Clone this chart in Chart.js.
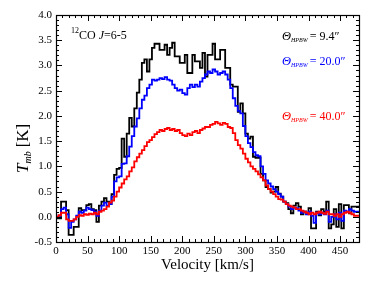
<!DOCTYPE html>
<html>
<head>
<meta charset="utf-8">
<script src="https://cdn.jsdelivr.net/npm/chart.js@4"></script>
<style>
  html, body { margin: 0; padding: 0; background: #fff; }
  #wrap { width: 374px; height: 287px; }
</style>
</head>
<body>
<div id="wrap"><canvas id="myChart" width="374" height="287"></canvas></div>
<script>
// channel left edges, 4 km/s wide
const chanWidth = 4;
const velocities = [];
for (let i = 0; i < 120; i++) velocities.push(i * chanWidth);

const beam94 = [
  0.10,-0.03,-0.03,0.30,0.30,0.13,-0.36,-0.36,-0.20,-0.20,
  0.17,0.13,0.13,0.23,0.25,0.15,0.13,-0.10,0.22,0.30,
  0.37,0.30,0.25,0.45,0.83,0.95,0.97,1.55,1.19,1.65,
  1.96,1.79,2.15,2.46,2.72,3.05,3.12,2.88,3.12,3.35,
  3.43,3.43,3.31,3.31,3.41,3.21,3.35,3.45,3.18,3.18,
  3.05,3.05,3.21,2.85,2.85,3.21,3.08,3.08,2.95,3.25,
  2.78,3.21,3.21,3.43,3.12,3.12,3.31,3.31,2.95,2.95,
  2.62,2.58,2.58,2.08,2.25,2.05,1.65,1.55,1.59,1.19,
  1.17,1.17,0.85,0.72,0.59,0.55,0.48,0.50,0.59,0.46,
  0.40,0.30,0.27,0.15,0.07,0.22,0.27,0.20,0.05,0.10,
  0.07,0.17,-0.23,-0.23,0.10,0.03,0.15,0.10,0.30,-0.23,
  -0.15,0.15,-0.20,0.25,-0.23,0.23,0.23,0.07,0.20,0.20
];
const beam20 = [
  0.05,0.00,0.02,0.15,0.18,0.05,-0.22,-0.10,-0.05,0.02,
  0.10,0.08,0.12,0.18,0.15,0.13,0.10,0.02,0.12,0.22,
  0.28,0.22,0.25,0.40,0.70,0.78,0.80,1.05,1.06,1.20,
  1.39,1.60,1.79,1.95,2.15,2.32,2.40,2.55,2.62,2.72,
  2.70,2.72,2.75,2.73,2.77,2.72,2.70,2.62,2.55,2.50,
  2.52,2.45,2.42,2.55,2.62,2.57,2.62,2.58,2.68,2.75,
  2.82,2.88,2.85,2.92,2.88,2.82,2.85,2.88,2.82,2.72,
  2.55,2.35,2.20,2.10,2.05,1.80,1.60,1.46,1.38,1.28,
  1.22,1.20,1.00,0.85,0.72,0.66,0.60,0.55,0.50,0.45,
  0.40,0.30,0.25,0.20,0.15,0.18,0.17,0.12,0.08,0.10,
  0.05,0.10,0.02,-0.12,0.08,0.05,0.08,0.05,0.12,-0.10,
  0.00,0.05,-0.05,0.08,-0.08,0.12,0.10,0.15,0.12,0.10
];
const beam40 = [
  0.02,0.00,0.03,0.08,0.08,-0.05,-0.08,-0.08,-0.05,0.00,
  0.03,0.02,0.05,0.04,0.06,0.05,0.08,0.05,0.10,0.12,
  0.15,0.20,0.28,0.32,0.40,0.50,0.58,0.66,0.74,0.80,
  0.90,0.98,1.10,1.18,1.25,1.32,1.40,1.48,1.52,1.58,
  1.64,1.68,1.72,1.70,1.74,1.76,1.72,1.74,1.70,1.72,
  1.66,1.62,1.60,1.65,1.62,1.68,1.70,1.66,1.72,1.75,
  1.78,1.78,1.82,1.84,1.88,1.85,1.82,1.86,1.84,1.78,
  1.76,1.66,1.52,1.42,1.35,1.25,1.15,1.08,1.00,0.95,
  0.90,0.84,0.78,0.72,0.62,0.55,0.50,0.45,0.40,0.35,
  0.34,0.30,0.25,0.22,0.20,0.18,0.15,0.15,0.12,0.10,
  0.08,0.05,0.08,0.05,0.08,0.10,0.08,0.06,0.10,0.05,
  0.05,0.02,0.05,0.00,0.05,0.08,0.10,0.08,0.05,0.02
];

const beamLabels = ["9.4", "20.0", "40.0"];
const beamColors = ["#000000", "#0000ff", "#ff0000"];

function toPoints(vals) {
  const pts = vals.map((t, i) => ({x: velocities[i], y: t}));
  // close the last channel
  pts.push({x: velocities[velocities.length - 1] + chanWidth, y: vals[vals.length - 1]});
  return pts;
}

const serif = "'Liberation Serif', 'DejaVu Serif', serif";

// inward ticks on all four sides, y labels, frame and annotations
const framePlugin = {
  id: "frame",
  afterDraw(chart) {
    const ctx = chart.ctx;
    const a = chart.chartArea;
    const xs = chart.scales.x, ys = chart.scales.y;
    ctx.save();
    ctx.strokeStyle = "#000";
    ctx.fillStyle = "#000";
    ctx.lineWidth = 1;
    ctx.beginPath();
    xs.ticks.forEach(t => {
      if (t.value % 10 !== 0) return;
      const px = Math.round(xs.getPixelForValue(t.value)) + 0.5;
      const len = t.value % 50 === 0 ? 6 : 3;
      ctx.moveTo(px, a.bottom); ctx.lineTo(px, a.bottom - len);
      ctx.moveTo(px, a.top); ctx.lineTo(px, a.top + len);
    });
    ctx.font = "11px " + serif;
    ctx.textAlign = "right";
    ctx.textBaseline = "middle";
    ys.ticks.forEach(t => {
      const v = Math.round(t.value * 10);
      const py = Math.round(ys.getPixelForValue(t.value)) + 0.5;
      const major = v % 5 === 0;
      const len = major ? 6 : 3;
      ctx.moveTo(a.left, py); ctx.lineTo(a.left + len, py);
      ctx.moveTo(a.right, py); ctx.lineTo(a.right - len, py);
      if (major) ctx.fillText((v / 10).toFixed(1), a.left - 4, py);
    });
    ctx.stroke();
    ctx.lineWidth = 1.2;
    ctx.strokeRect(a.left + 0.5, a.top + 0.5, a.right - a.left, a.bottom - a.top);
    ctx.textAlign = "left";
    ctx.textBaseline = "alphabetic";

    // y axis title: T_mb [K]
    ctx.translate(22, 141);
    ctx.rotate(-Math.PI / 2);
    let x = -32;
    ctx.font = "italic 17px " + serif;
    ctx.fillText("T", x, 6); x += ctx.measureText("T").width;
    ctx.font = "italic 10px " + serif;
    ctx.fillText("mb", x, 9); x += ctx.measureText("mb").width + 4;
    ctx.font = "17px " + serif;
    ctx.fillText("[K]", x, 6);
    ctx.setTransform(1, 0, 0, 1, 0, 0);

    // line label
    x = 71;
    ctx.font = "8px " + serif;
    ctx.fillText("12", x, 33); x += ctx.measureText("12").width;
    ctx.font = "12px " + serif;
    ctx.fillText("CO ", x, 39); x += ctx.measureText("CO ").width;
    ctx.font = "italic 12px " + serif;
    ctx.fillText("J", x, 39); x += ctx.measureText("J").width;
    ctx.font = "12px " + serif;
    ctx.fillText("=6-5", x, 39);

    // beam labels
    const ys0 = [39.5, 65, 119.5];
    beamLabels.forEach((lab, i) => {
      let bx = 282;
      ctx.fillStyle = beamColors[i];
      ctx.font = "italic 12.5px " + serif;
      ctx.fillText("\u0398", bx, ys0[i]); bx += ctx.measureText("\u0398").width;
      ctx.font = "italic 6px " + serif;
      ctx.fillText("HPBW", bx, ys0[i] + 2); bx += ctx.measureText("HPBW").width + 2;
      ctx.font = "12px " + serif;
      ctx.fillText("= " + lab + "\u2033", bx, ys0[i]);
    });
    ctx.restore();
  }
};

new Chart("myChart", {
  type: "line",
  data: {
    datasets: [beam94, beam20, beam40].map((vals, i) => ({
      data: toPoints(vals),
      borderColor: beamColors[i],
      borderWidth: 1.8,
      stepped: "after",
      pointRadius: 0,
      fill: false,
      order: 3 - i
    }))
  },
  options: {
    responsive: false,
    animation: false,
    devicePixelRatio: 1,
    layout: {padding: {top: 15, right: 15, left: 0, bottom: 13}},
    plugins: {legend: {display: false}, tooltip: {enabled: false}},
    scales: {
      x: {
        type: "linear",
        min: 0, max: 480,
        afterFit: s => { s.height = 32; },
        grid: {display: false, drawTicks: false, tickLength: 0},
        border: {display: false},
        ticks: {
          stepSize: 10, autoSkip: false, maxRotation: 0, padding: 3,
          color: "#000", font: {family: serif, size: 11},
          callback: v => (v % 50 === 0 ? String(v) : "")
        },
        title: {display: true, text: "Velocity [km/s]", color: "#000",
                font: {family: serif, size: 15}, padding: {top: 0, bottom: 0}}
      },
      y: {
        min: -0.5, max: 4.0,
        afterFit: s => { s.width = 56; },
        grid: {display: false, drawTicks: false, tickLength: 0},
        border: {display: false},
        ticks: {stepSize: 0.1, autoSkip: false, display: false}
      }
    }
  },
  plugins: [framePlugin]
});
</script>
</body>
</html>
